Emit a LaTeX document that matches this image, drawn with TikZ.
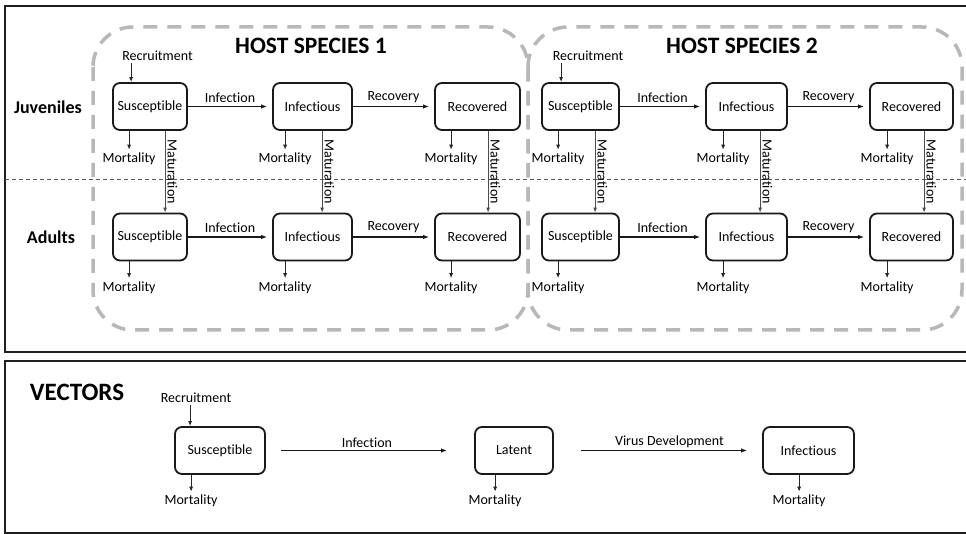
\documentclass[tikz,border=0pt]{standalone}
\usepackage{fontspec}
\setmainfont{Carlito}[Ligatures=NoCommon]
\usetikzlibrary{arrows.meta}
\tikzset{
  lbl/.style={font=\fontsize{14}{16}\selectfont, inner sep=2pt},
  box/.style={lbl, draw=black!90, line width=1.8pt, rounded corners=7pt, minimum height=47pt, inner sep=0pt},
  mort/.style={lbl, inner sep=3pt},
  rowlbl/.style={font=\fontsize{18}{20}\selectfont\bfseries, inner sep=0pt},
  titlelbl/.style={font=\fontsize{23.5}{26}\selectfont\bfseries, inner sep=0pt},
  sarr/.style={-{Latex[length=5pt,width=4pt]}, line width=0.9pt, draw=black!85},
  marr/.style={-{Latex[length=6pt,width=4.5pt]}, line width=1.8pt, draw=black!90, shorten >=5pt},
  varr/.style={-{Latex[length=6pt,width=4.5pt]}, line width=1.4pt, draw=black!90},
  matarr/.style={-{Latex[length=5pt,width=4pt]}, line width=0.9pt, draw=black!70},
  region/.style={draw=black!28, line width=3.5pt, dash pattern=on 14pt off 10pt, rounded corners=40pt},
  panel/.style={draw=black!88, line width=2pt},
  sepline/.style={draw=black!65, line width=1pt, dash pattern=on 4pt off 3pt},
}
\begin{document}
\begin{tikzpicture}[x=1pt,y=-1pt]
\useasboundingbox (0,0) rectangle (966,534);
\clip (0,0) rectangle (966,534);
\fill[white] (0,0) rectangle (966,534);

% panels
\draw[panel] (5,6) rectangle (980,352);
\draw[panel] (5,361) rectangle (980,533);
\draw[sepline] (5,180) -- (966,180);

% host regions
\draw[region] (93,27) rectangle (528,330);
\draw[region] (528,27) rectangle (962,330);

% titles
\node[titlelbl] (host1) at (311,46) {HOST SPECIES 1};
\node[titlelbl] (host2) at (742,46) {HOST SPECIES 2};
\node[rowlbl] (juv) at (48,107) {Juveniles};
\node[rowlbl] (adu) at (51,237) {Adults};

% host compartments
\foreach \n/\x/\w/\lab/\mo/\ma in {
  s1/150/74/Susceptible/17/53,
  i1/312.5/79/Infectious/13/50,
  r1/477.5/85/Recovered/17/54,
  s2/580.5/77/Susceptible/17/54,
  i2/746.5/81/Infectious/18/55,
  r2/911.5/83/Recovered/18/55}{
  \node[box, minimum width=\w pt] (\n j) at (\x,106.5) {\lab};
  \node[box, minimum width=\w pt] (\n a) at (\x,237) {\lab};
  \node[mort] (m\n j) at ([xshift=\mo pt, yshift=-28pt]\n j.south west) {Mortality};
  \node[mort] (m\n a) at ([xshift=\mo pt, yshift=-26pt]\n a.south west) {Mortality};
  \draw[sarr] (m\n j.north |- \n j.south) -- (m\n j.north);
  \draw[sarr] (m\n a.north |- \n a.south) -- (m\n a.north);
  \draw[matarr] ([xshift=\ma pt]\n j.south west) -- ([xshift=\ma pt]\n a.north west)
     node[midway, lbl, rotate=-90, anchor=south, inner sep=2pt] (mat\n) {Maturation};
}

% recruitment
\node[lbl] (rec1) at (157.5,56) {Recruitment};
\node[lbl] (rec2) at (588,56) {Recruitment};
\draw[sarr] ([xshift=19pt]s1j.north west |- rec1.south) -- ([xshift=19pt]s1j.north west);
\draw[sarr] ([xshift=20pt]s2j.north west |- rec2.south) -- ([xshift=20pt]s2j.north west);

% transitions
\draw[marr] (s1j) -- node[lbl, above, yshift=1pt] (inf1j) {Infection} (i1j);
\draw[marr] (i1j) -- node[lbl, above, yshift=1pt] (rec1j) {Recovery} (r1j);
\draw[marr] (s2j) -- node[lbl, above, yshift=1pt] (inf2j) {Infection} (i2j);
\draw[marr] (i2j) -- node[lbl, above, yshift=1pt] (rec2j) {Recovery} (r2j);
\draw[marr] (s1a) -- node[lbl, above, yshift=1pt] (inf1a) {Infection} (i1a);
\draw[marr] (i1a) -- node[lbl, above, yshift=1pt] (rec1a) {Recovery} (r1a);
\draw[marr] (s2a) -- node[lbl, above, yshift=1pt] (inf2a) {Infection} (i2a);
\draw[marr] (i2a) -- node[lbl, above, yshift=1pt] (rec2a) {Recovery} (r2a);

% vectors
\node[titlelbl, font=\fontsize{25}{28}\selectfont\bfseries] (vec) at (77,392) {VECTORS};
\node[box, minimum width=90pt] (vs) at (220,450.5) {Susceptible};
\node[box, minimum width=78pt] (vl) at (514,450.5) {Latent};
\node[box, minimum width=91pt] (vi) at (808.5,450.5) {Infectious};
\node[lbl] (vrec) at (196,398) {Recruitment};
\draw[sarr] ([xshift=16pt]vs.north west |- vrec.south) -- ([xshift=16pt]vs.north west);
\node[mort] (mvs) at ([xshift=17pt, yshift=-26pt]vs.south west) {Mortality};
\node[mort] (mvl) at ([xshift=21pt, yshift=-26pt]vl.south west) {Mortality};
\node[mort] (mvi) at ([xshift=37pt, yshift=-26pt]vi.south west) {Mortality};
\draw[sarr] (mvs.north |- vs.south) -- (mvs.north);
\draw[sarr] (mvl.north |- vl.south) -- (mvl.north);
\draw[sarr] (mvi.north |- vi.south) -- (mvi.north);
\draw[varr, shorten <=15pt, shorten >=27pt] (vs) -- node[lbl, above, pos=0.485] (vinf) {Infection} (vl);
\draw[varr, shorten <=27pt, shorten >=15pt] (vl) -- node[lbl, above, pos=0.555] (vdev) {Virus Development} (vi);
\end{tikzpicture}
\end{document}
